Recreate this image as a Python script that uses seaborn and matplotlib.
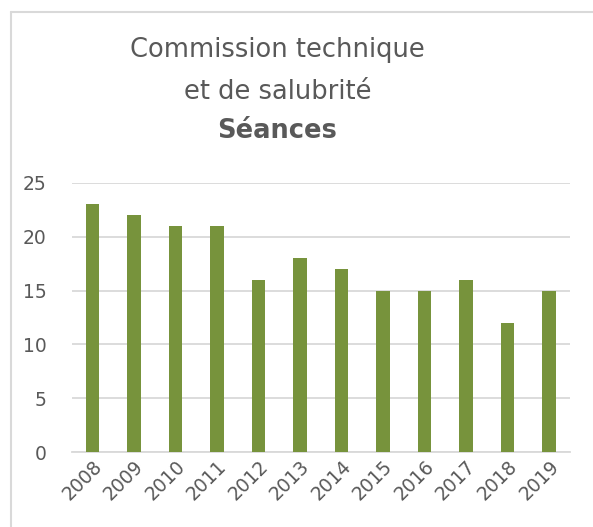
import matplotlib
matplotlib.use("Agg")
import matplotlib.pyplot as plt
import seaborn as sns
import pandas as pd

years = ["2008", "2009", "2010", "2011", "2012", "2013",
         "2014", "2015", "2016", "2017", "2018", "2019"]
seances = [23, 22, 21, 21, 16, 18, 17, 15, 15, 16, 12, 15]

title_lines = ["Commission technique", "et de salubrité", "Séances"]

sns.set_theme(style="white")
plt.rcParams['font.family'] = ['DejaVu Sans']

text_col = "#595959"
grid_col = "#d9d9d9"
bar_col = "#77933C"

df = pd.DataFrame({"year": years, "seances": seances})

fig = plt.figure(figsize=(5.93, 5.27), dpi=100)
ax = fig.add_axes([0.121, 0.142, 0.840, 0.511])

sns.barplot(data=df, x="year", y="seances", color=bar_col, width=0.32,
            saturation=1, linewidth=0, ax=ax, zorder=3)

ax.set_ylim(0, 25)
ax.set_yticks(range(0, 26, 5))
ax.yaxis.grid(True, color=grid_col, linewidth=1.3, zorder=0)
ax.set_axisbelow(True)
for s in ["top", "right", "left"]:
    ax.spines[s].set_visible(False)
ax.spines["bottom"].set_color(grid_col)
ax.spines["bottom"].set_linewidth(1.3)
ax.set_xlabel("")
ax.set_ylabel("")
ax.tick_params(axis="both", length=0, colors=text_col, labelsize=13.5)
ax.tick_params(axis="y", pad=18)
plt.setp(ax.get_xticklabels(), rotation=45, ha="right", rotation_mode="anchor")

fig.text(0.468, 0.905, title_lines[0], ha="center", va="center", fontsize=18.5, color=text_col)
fig.text(0.468, 0.825, title_lines[1], ha="center", va="center", fontsize=18.5, color=text_col)
fig.text(0.468, 0.752, title_lines[2], ha="center", va="center", fontsize=18.5,
         fontweight="bold", color=text_col)

# chart frame (open on right/bottom like the cropped original)
fig.add_artist(plt.Line2D([0.019, 0.019], [0.0, 0.977], color=grid_col, lw=1.5))
fig.add_artist(plt.Line2D([0.019, 1.0], [0.977, 0.977], color=grid_col, lw=1.5))

fig.savefig("out.png", dpi=100)
